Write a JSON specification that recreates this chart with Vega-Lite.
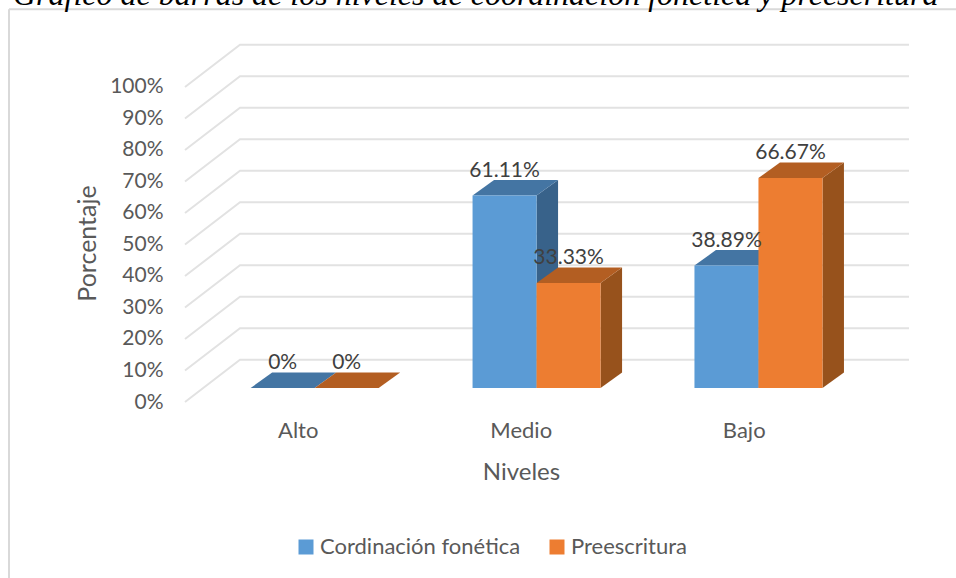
{"$schema":"https://vega.github.io/schema/vega-lite/v6.json","width":724,"height":358,"autosize":{"type":"none"},"padding":{"left":185,"top":44,"right":47,"bottom":176},"background":"white","view":{"stroke":null},"config":{"axis":{"labelOverlap":false}},"title":{"text":"Gráfico de barras de los niveles de coordinación fonética y preescritura","font":"Liberation Serif","fontStyle":"italic","fontWeight":"normal","fontSize":32,"color":"#000000","anchor":"start","frame":"group","dx":-172,"dy":34,"offset":5,"baseline":"alphabetic"},"data":{"values":[{"nivel":"Alto","serie":"Cordinación fonética","valor":0},{"nivel":"Alto","serie":"Preescritura","valor":0},{"nivel":"Medio","serie":"Cordinación fonética","valor":61.11},{"nivel":"Medio","serie":"Preescritura","valor":33.33},{"nivel":"Bajo","serie":"Cordinación fonética","valor":38.89},{"nivel":"Bajo","serie":"Preescritura","valor":66.67}]},"transform":[{"calculate":"0.995*indexof(['Alto','Medio','Bajo'],datum.nivel)+0.076+(datum.serie==='Preescritura'?0:-0.287)","as":"xl"},{"calculate":"datum.xl+0.287","as":"xr"},{"calculate":"datum.valor+'%'","as":"etiqueta"}],"encoding":{"x":{"type":"quantitative","scale":{"domain":[-0.5054,2.741],"nice":false,"zero":false},"axis":{"values":[0,1,2],"labelExpr":"['Alto','Medio','Bajo'][datum.value]","title":"Niveles","grid":false,"domain":false,"ticks":false,"labelOverlap":false,"labelFont":"Lato","labelFontSize":22,"labelColor":"#595959","labelPadding":18,"titleFont":"Lato","titleFontSize":24,"titleFontWeight":"normal","titleColor":"#595959","titleX":336,"titleY":70,"titleBaseline":"middle"}},"y":{"type":"quantitative","scale":{"domain":[0,113.65],"nice":false,"zero":false},"axis":{"values":[0,10,20,30,40,50,60,70,80,90,100],"labelExpr":"datum.value+'%'","labelOverlap":false,"title":"Porcentaje","grid":false,"domain":false,"ticks":false,"labelFont":"Lato","labelFontSize":21,"labelColor":"#595959","labelPadding":22,"titleFont":"Lato","titleFontSize":25,"titleFontWeight":"normal","titleColor":"#595959","titleX":-98,"titleY":199,"titleBaseline":"middle"}}},"layer":[{"data":{"values":[{"v":0},{"v":10},{"v":20},{"v":30},{"v":40},{"v":50},{"v":60},{"v":70},{"v":80},{"v":90},{"v":100}]},"transform":[{"calculate":"[0,1,2]","as":"k"},{"flatten":["k"]},{"calculate":"datum.k===0?-0.5054:(datum.k===1?-0.2588:2.741)","as":"gx"},{"calculate":"datum.v+(datum.k>0?13.4:0)","as":"gy"}],"mark":{"type":"line","stroke":"#E2E2E2","strokeWidth":2,"clip":false},"encoding":{"x":{"field":"gx"},"y":{"field":"gy"},"detail":{"field":"v","type":"quantitative"}}},{"data":{"values":[{"a":1}]},"mark":{"type":"rule","stroke":"#D9D9D9","strokeWidth":2,"clip":false},"encoding":{"x":{"datum":-1.2946},"y":{"datum":124.67},"y2":{"datum":-55.9}}},{"data":{"values":[{"a":1}]},"mark":{"type":"rule","stroke":"#D9D9D9","strokeWidth":2,"clip":false},"encoding":{"x":{"datum":-1.2946},"x2":{"datum":2.954},"y":{"datum":124.67}}},{"transform":[{"calculate":"[0,1]","as":"k"},{"flatten":["k"]},{"calculate":"datum.xr+datum.k*0.0964","as":"sx"},{"calculate":"4.44+datum.valor+datum.k*4.9","as":"sy"},{"calculate":"4.44+datum.k*4.9","as":"sy2"}],"mark":{"type":"area","orient":"vertical","clip":false},"encoding":{"x":{"field":"sx"},"y":{"field":"sy"},"y2":{"field":"sy2"},"color":{"field":"serie","type":"nominal","scale":{"domain":["Cordinación fonética","Preescritura"],"range":["#38628A","#97521C"]},"legend":null},"detail":{"field":"nivel","type":"nominal"}}},{"transform":[{"calculate":"[0,1]","as":"k"},{"flatten":["k"]},{"calculate":"datum.xl+datum.k*0.0964","as":"tx"},{"calculate":"datum.xr+datum.k*0.0964","as":"tx2"},{"calculate":"4.44+datum.valor+datum.k*4.9","as":"ty"}],"mark":{"type":"area","orient":"horizontal","clip":false},"encoding":{"x":{"field":"tx"},"x2":{"field":"tx2"},"y":{"field":"ty"},"color":{"field":"serie","type":"nominal","scale":{"domain":["Cordinación fonética","Preescritura"],"range":["#4475A3","#B35E22"]},"legend":null},"detail":{"field":"nivel","type":"nominal"}}},{"transform":[{"calculate":"4.44","as":"fy"},{"calculate":"4.44+datum.valor","as":"fy2"}],"mark":{"type":"rect","clip":false},"encoding":{"x":{"field":"xl"},"x2":{"field":"xr"},"y":{"field":"fy"},"y2":{"field":"fy2"},"color":{"field":"serie","type":"nominal","scale":{"domain":["Cordinación fonética","Preescritura"],"range":["#5B9BD5","#ED7D31"]},"legend":{"orient":"none","legendX":110,"legendY":492,"direction":"horizontal","title":null,"symbolType":"square","symbolSize":225,"symbolStrokeWidth":0,"labelFont":"Lato","labelFontSize":22,"labelColor":"#595959","labelOffset":3,"labelLimit":400,"columnPadding":25}}}},{"transform":[{"calculate":"(datum.xl+datum.xr)/2","as":"lx"},{"calculate":"4.44+datum.valor+4.9","as":"ly"}],"mark":{"type":"text","font":"Lato","fontSize":21,"color":"#404040","dy":-9.5,"baseline":"middle","align":"center"},"encoding":{"x":{"field":"lx"},"y":{"field":"ly"},"text":{"field":"etiqueta","type":"nominal"}}}],"resolve":{"scale":{"color":"independent"}}}
